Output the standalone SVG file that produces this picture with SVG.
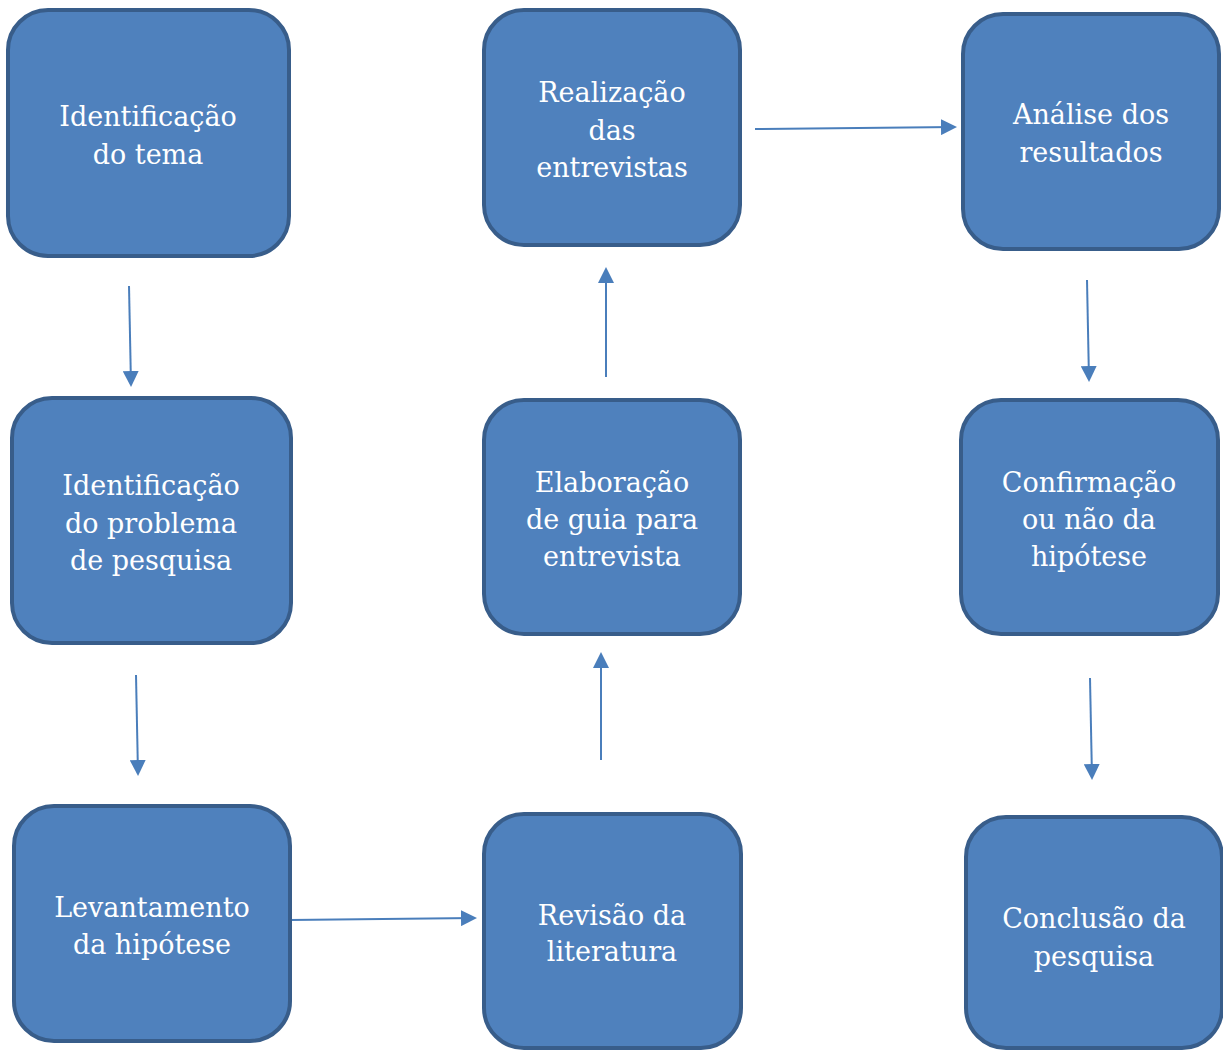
<svg xmlns="http://www.w3.org/2000/svg" width="1223" height="1050" viewBox="0 0 1223 1050">
<style>
.box{fill:#4f81bd;stroke:#385d8a;stroke-width:4}
.t{font-family:"DejaVu Serif","Liberation Serif",serif;font-size:27px;fill:#ffffff;text-anchor:middle}
.c{stroke:#4a7ebb;stroke-width:2;fill:none;marker-end:url(#ah)}
</style>
<defs>
<marker id="ah" markerWidth="8" markerHeight="8" refX="7" refY="4" orient="auto" markerUnits="strokeWidth">
<path d="M0,0 L8,4 L0,8 z" fill="#4a7ebb"/>
</marker>
</defs>
<rect width="1223" height="1050" fill="#ffffff"/>
<g id="connectors">
<line class="c" x1="129" y1="286" x2="131" y2="385"/>
<line class="c" x1="136" y1="675" x2="138" y2="774"/>
<line class="c" x1="290" y1="920" x2="475" y2="918"/>
<line class="c" x1="601" y1="760" x2="601" y2="654"/>
<line class="c" x1="606" y1="377" x2="606" y2="269"/>
<line class="c" x1="755" y1="129" x2="955" y2="127"/>
<line class="c" x1="1087" y1="280" x2="1089" y2="380"/>
<line class="c" x1="1090" y1="678" x2="1092" y2="778"/>
</g>
<g id="n1"><rect class="box" x="8" y="10" width="281" height="246" rx="40"/>
<text class="t" x="148"><tspan x="148" y="126">Identificação</tspan><tspan x="148" y="164">do tema</tspan></text></g>
<g id="n2"><rect class="box" x="12" y="398" width="279" height="245" rx="40"/>
<text class="t"><tspan x="151" y="495">Identificação</tspan><tspan x="151" y="533">do problema</tspan><tspan x="151" y="570">de pesquisa</tspan></text></g>
<g id="n3"><rect class="box" x="14" y="806" width="276" height="235" rx="40"/>
<text class="t"><tspan x="152" y="917">Levantamento</tspan><tspan x="152" y="954">da hipótese</tspan></text></g>
<g id="n4"><rect class="box" x="484" y="814" width="257" height="234" rx="40"/>
<text class="t"><tspan x="612" y="925">Revisão da</tspan><tspan x="612" y="961">literatura</tspan></text></g>
<g id="n5"><rect class="box" x="484" y="400" width="256" height="234" rx="40"/>
<text class="t"><tspan x="612" y="492">Elaboração</tspan><tspan x="612" y="529">de guia para</tspan><tspan x="612" y="566">entrevista</tspan></text></g>
<g id="n6"><rect class="box" x="484" y="10" width="256" height="235" rx="40"/>
<text class="t"><tspan x="612" y="102">Realização</tspan><tspan x="612" y="140">das</tspan><tspan x="612" y="177">entrevistas</tspan></text></g>
<g id="n7"><rect class="box" x="963" y="14" width="256" height="235" rx="40"/>
<text class="t"><tspan x="1091" y="124">Análise dos</tspan><tspan x="1091" y="162">resultados</tspan></text></g>
<g id="n8"><rect class="box" x="961" y="400" width="257" height="234" rx="40"/>
<text class="t"><tspan x="1089" y="492">Confirmação</tspan><tspan x="1089" y="529">ou não da</tspan><tspan x="1089" y="566">hipótese</tspan></text></g>
<g id="n9"><rect class="box" x="966" y="817" width="256" height="231" rx="40"/>
<text class="t"><tspan x="1094" y="928">Conclusão da</tspan><tspan x="1094" y="966">pesquisa</tspan></text></g>
</svg>
